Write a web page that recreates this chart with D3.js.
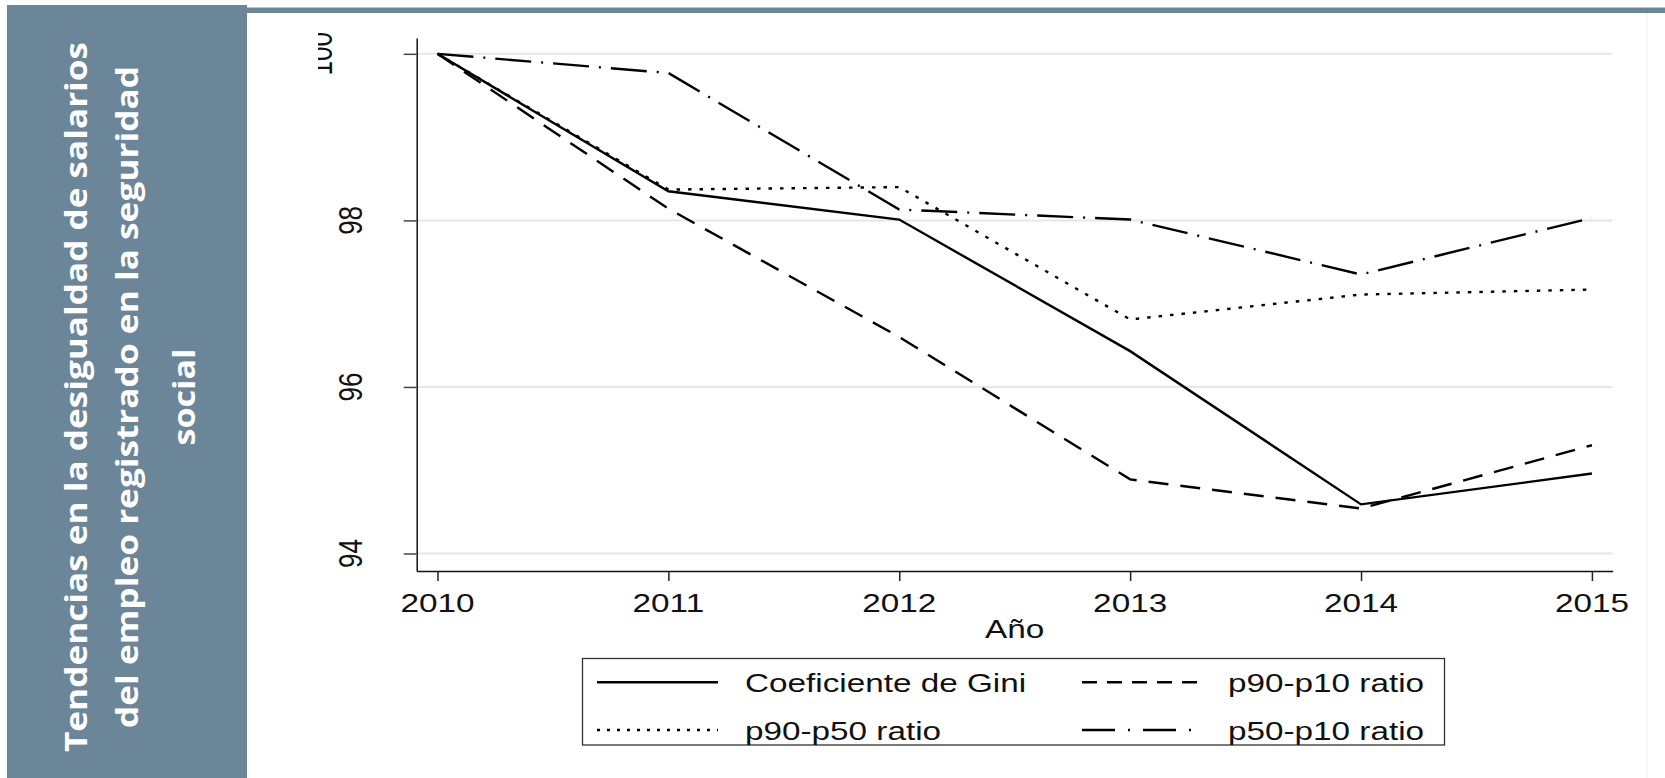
<!DOCTYPE html>
<html>
<head>
<meta charset="utf-8">
<script src="https://cdn.jsdelivr.net/npm/d3@7"></script>
<style>
  html, body { margin: 0; padding: 0; background: #ffffff; }
  svg { display: block; }
</style>
</head>
<body>
<svg id="chart" width="1665" height="778"></svg>
<script>
// ---------------- data ----------------
const years = [2010, 2011, 2012, 2013, 2014, 2015];
const gini   = [100, 98.35, 98.01, 96.43, 94.59, 94.96];
const p90p10 = [100, 98.14, 96.60, 94.89, 94.54, 95.30];
const p90p50 = [100, 98.37, 98.40, 96.81, 97.11, 97.17];
const p50p10 = [100, 99.77, 98.13, 98.01, 97.35, 98.03];
const yTicks = [94, 96, 98, 100];
const seriesNames = ["Coeficiente de Gini", "p90-p10 ratio", "p90-p50 ratio", "p50-p10 ratio"];
const titleLines = ["Tendencias en la desigualdad de salarios", "del empleo registrado en la seguridad", "social"];
const xTitle = "Año";

// ---------------- layout / style ----------------
const svg = d3.select("#chart");
const SX = 1.28;            // horizontal stretch of the original image
const FONT = "'Liberation Sans', Arial, Helvetica, sans-serif";
const panelColor = "#6b8599";

// left panel and top bar
svg.append("rect").attr("x", 7).attr("y", 5).attr("width", 240).attr("height", 773).attr("fill", panelColor);
svg.append("rect").attr("x", 247).attr("y", 7).attr("width", 1418).attr("height", 6).attr("fill", panelColor);
svg.append("rect").attr("x", 247).attr("y", 7).attr("width", 1418).attr("height", 1).attr("fill", "#b8c5cf");
svg.append("line").attr("x1", 1647).attr("x2", 1647).attr("y1", 13).attr("y2", 778)
  .attr("stroke", "#eeeeee").attr("stroke-width", 1);

// title
const titleX = [87, 138, 195];
const titleLen = [710, 662, 97];
titleLines.forEach((t, i) => {
  svg.append("text")
    .attr("transform", `translate(${titleX[i]},397) rotate(-90)`)
    .attr("text-anchor", "middle")
    .attr("font-family", "'Open Sans', Lato, sans-serif")
    .attr("font-weight", "bold")
    .attr("font-size", 31)
    .attr("fill", "#ffffff")
    .attr("textLength", titleLen[i])
    .attr("lengthAdjust", "spacingAndGlyphs")
    .text(t);
});

// scales
const x = d3.scaleLinear().domain([2009.91, 2015.09]).range([416.7, 1612.7]);
const y = d3.scaleLinear().domain([93.79, 100.19]).range([571, 38]);

// gridlines
svg.append("g").selectAll("line").data(yTicks).join("line")
  .attr("x1", x.range()[0]).attr("x2", x.range()[1])
  .attr("y1", d => y(d)).attr("y2", d => y(d))
  .attr("stroke", "#e6e6e6").attr("stroke-width", 2);

// y axis
const yAxis = svg.append("g").attr("transform", `translate(${x.range()[0]},0)`)
  .call(d3.axisLeft(y).tickValues(yTicks).tickSize(13).tickSizeOuter(0).tickFormat(() => ""));
yAxis.select(".domain").attr("stroke", "#111").attr("stroke-width", 1.5);
yAxis.selectAll(".tick line").attr("stroke", "#444").attr("stroke-width", 1.5);

// y tick labels (rotated)
svg.append("clipPath").attr("id", "clip100").append("rect")
  .attr("x", 318).attr("y", 0).attr("width", 100).attr("height", 120);
const yLab = svg.append("g");
yTicks.forEach(v => {
  const isTop = v === 100;
  const g = yLab.append("g");
  if (isTop) g.attr("clip-path", "url(#clip100)");
  g.append("text")
    .attr("transform", `translate(${isTop ? 332 : 362},${y(v)}) scale(${SX},1) rotate(-90)`)
    .attr("text-anchor", "middle")
    .attr("font-family", FONT).attr("font-size", 26).attr("fill", "#111")
    .text(v);
});

// x axis
const xAxis = svg.append("g").attr("transform", `translate(0,${y.range()[0]})`)
  .call(d3.axisBottom(x).tickValues(years).tickSize(10).tickSizeOuter(0).tickFormat(() => ""));
xAxis.select(".domain").attr("stroke", "#111").attr("stroke-width", 1.5);
xAxis.selectAll(".tick line").attr("stroke", "#222").attr("stroke-width", 1.5);

svg.append("g").selectAll("text").data(years).join("text")
  .attr("transform", d => `translate(${x(d)},611.7) scale(${SX},1)`)
  .attr("text-anchor", "middle")
  .attr("font-family", FONT).attr("font-size", 26).attr("fill", "#111")
  .text(d => d);

svg.append("text")
  .attr("transform", `translate(${(x.range()[0] + x.range()[1]) / 2},637.5) scale(${SX},1)`)
  .attr("text-anchor", "middle")
  .attr("font-family", FONT).attr("font-size", 26).attr("fill", "#111")
  .text(xTitle);

// series lines
const seriesData = [gini, p90p10, p90p50, p50p10];
const plotDash = [null, "20,12", "3.5,8", "36,10,2,10"];
const legendDash = [null, "15,10", "3,7", "33,13,2,13"];
const line = d3.line().x((d, i) => x(years[i])).y(d => y(d));
const drawOrder = [3, 2, 1, 0];
drawOrder.forEach(k => {
  svg.append("path")
    .datum(seriesData[k])
    .attr("d", line)
    .attr("fill", "none")
    .attr("stroke", "#000")
    .attr("stroke-width", 2.4)
    .attr("stroke-linejoin", "miter")
    .attr("stroke-dasharray", plotDash[k]);
});

// legend
svg.append("rect").attr("x", 582.5).attr("y", 658.5).attr("width", 862).attr("height", 86.5)
  .attr("fill", "none").attr("stroke", "#333").attr("stroke-width", 1.3);
const legPos = [
  {lx1: 597, lx2: 718, ly: 682.3, tx: 745, ty: 692},   // Gini
  {lx1: 1082, lx2: 1203, ly: 682.3, tx: 1228, ty: 692}, // p90-p10
  {lx1: 597, lx2: 718, ly: 730, tx: 745, ty: 739.5},    // p90-p50
  {lx1: 1082, lx2: 1203, ly: 730, tx: 1228, ty: 739.5}  // p50-p10
];
seriesNames.forEach((name, k) => {
  const p = legPos[k];
  svg.append("line").attr("x1", p.lx1).attr("x2", p.lx2).attr("y1", p.ly).attr("y2", p.ly)
    .attr("stroke", "#000").attr("stroke-width", 2.4).attr("stroke-dasharray", legendDash[k]);
  svg.append("text")
    .attr("transform", `translate(${p.tx},${p.ty}) scale(${SX},1)`)
    .attr("font-family", FONT).attr("font-size", 26).attr("fill", "#111")
    .text(name);
});
</script>
</body>
</html>
